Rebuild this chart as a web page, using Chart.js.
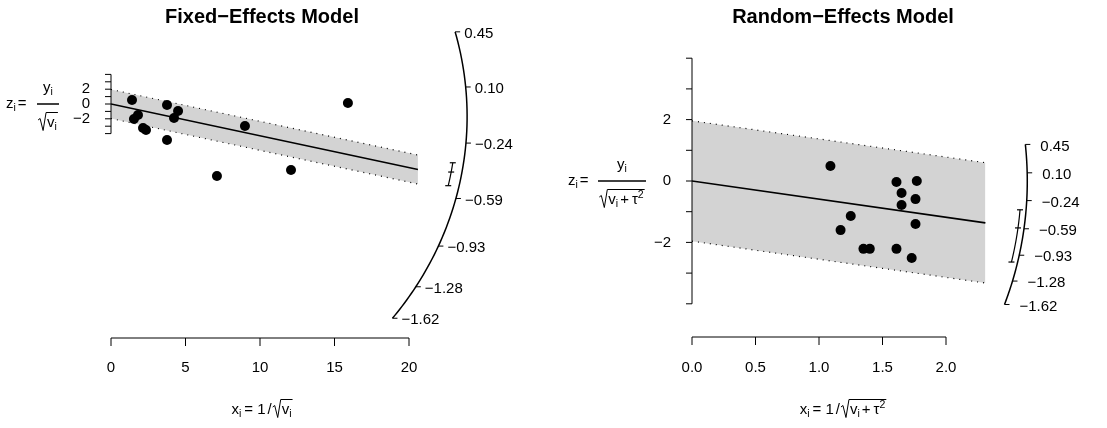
<!DOCTYPE html>
<html>
<head>
<meta charset="utf-8">
<script src="https://cdn.jsdelivr.net/npm/chart.js@4.4.1/dist/chart.umd.min.js"></script>
<style>
  body { margin: 0; background: #fff; width: 1107px; height: 428px; overflow: hidden; }
  canvas { position: absolute; top: 0; }
</style>
</head>
<body>
<canvas id="fe" width="553" height="428" style="left:0"></canvas>
<canvas id="re" width="554" height="428" style="left:553px"></canvas>
<script>
// datos: x = 1/sqrt(v), z = y/sqrt(v)
const feX = [1.41, 3.76, 4.50, 1.81, 1.54, 4.23, 2.15, 2.35, 8.99, 3.76, 15.9, 7.11, 12.08];
const feZ = [0.54, -0.14, -0.95, -1.49, -2.03, -1.89, -3.24, -3.51, -2.97, -4.86, 0.14, -9.73, -8.92];
const reX = [1.09, 1.61, 1.77, 1.65, 1.76, 1.65, 1.25, 1.76, 1.17, 1.35, 1.40, 1.61, 1.73];
const reZ = [0.49, -0.03, 0.00, -0.39, -0.59, -0.78, -1.14, -1.40, -1.60, -2.21, -2.21, -2.21, -2.51];

// estimaciones y sus intervalos
const feEst = -0.43, feCi = [-0.37, -0.52];
const reEst = -0.59, reCi = [-0.36, -1.04];

// ticks
const arcVals = [0.45, 0.10, -0.24, -0.59, -0.93, -1.28, -1.62];
const arcLabels = ['0.45', '0.10', '\u22120.24', '\u22120.59', '\u22120.93', '\u22121.28', '\u22121.62'];
const feXTicks = [0, 5, 10, 15, 20];
const feXLabels = ['0', '5', '10', '15', '20'];
const reXTicks = [0, 0.5, 1.0, 1.5, 2.0];
const reXLabels = ['0.0', '0.5', '1.0', '1.5', '2.0'];
const zTicks = [-4, -3, -2, -1, 0, 1, 2, 3, 4];
const zLabelVals = [2, 0, -2];
const zLabels = ['2', '0', '\u22122'];

const FONT = '"Liberation Sans", Arial, sans-serif';
const FS = 15;

// dibuja texto "matematico" simple: partes normales, subindices, superindices y raiz
function mathText(ctx, x, y, parts, size, dry) {
    let cx = x;
    parts.forEach(p => {
        if (p.sqrt) {
            const w = mathText(ctx, 0, 0, p.sqrt, size, true);
            if (!dry) {
                ctx.beginPath();
                ctx.lineWidth = 1;
                ctx.moveTo(cx, y - size * 0.2);
                ctx.lineTo(cx + 2, y - size * 0.3);
                ctx.lineTo(cx + 5, y + size * 0.5);
                ctx.lineTo(cx + 8, y - size * 0.7);
                ctx.lineTo(cx + 10 + w, y - size * 0.7);
                ctx.stroke();
                mathText(ctx, cx + 9, y, p.sqrt, size, false);
            }
            cx += w + 10;
            return;
        }
        const s = p.sub || p.sup ? size * 0.7 : size;
        ctx.font = s + 'px ' + FONT;
        const w = ctx.measureText(p.t).width;
        if (!dry) {
            ctx.textAlign = 'left';
            ctx.textBaseline = 'middle';
            ctx.fillText(p.t, cx, y + (p.sub ? size * 0.3 : p.sup ? -size * 0.35 : 0));
        }
        cx += w + (p.gap || 0);
    });
    return cx - x;
}

function mathCentered(ctx, cx, y, parts, size) {
    const w = mathText(ctx, 0, 0, parts, size, true);
    mathText(ctx, cx - w / 2, y, parts, size, false);
    return w;
}

// plugin que dibuja ejes, arco, titulos y etiquetas
const radialPlugin = {
    id: 'radial',
    afterDraw(chart) {
        const c = chart.options.radial;
        const ctx = chart.ctx;
        const xs = chart.scales.x, ys = chart.scales.y;
        ctx.save();
        ctx.fillStyle = '#000';
        ctx.strokeStyle = '#000';

        // titulo
        ctx.font = 'bold 20px ' + FONT;
        ctx.textAlign = 'center';
        ctx.textBaseline = 'middle';
        ctx.fillText(c.title, c.titleX, 17);

        // eje x
        const ay = c.xAxisY;
        ctx.lineWidth = 1;
        ctx.beginPath();
        ctx.moveTo(xs.getPixelForValue(c.xTicks[0]), ay);
        ctx.lineTo(xs.getPixelForValue(c.xTicks[c.xTicks.length - 1]), ay);
        c.xTicks.forEach(t => {
            const px = xs.getPixelForValue(t);
            ctx.moveTo(px, ay);
            ctx.lineTo(px, ay + 8);
        });
        ctx.stroke();
        ctx.font = FS + 'px ' + FONT;
        c.xTicks.forEach((t, i) => ctx.fillText(c.xLabels[i], xs.getPixelForValue(t), 368));

        // eje z
        const axX = xs.getPixelForValue(0);
        ctx.beginPath();
        ctx.moveTo(axX, ys.getPixelForValue(zTicks[0]));
        ctx.lineTo(axX, ys.getPixelForValue(zTicks[zTicks.length - 1]));
        zTicks.forEach(t => {
            const py = ys.getPixelForValue(t);
            ctx.moveTo(axX, py);
            ctx.lineTo(axX - 6, py);
        });
        ctx.stroke();
        ctx.textAlign = 'right';
        zLabelVals.forEach((t, i) => ctx.fillText(zLabels[i], axX - 21, ys.getPixelForValue(t)));

        // arco con los valores del efecto
        const arcPt = (v, f) => {
            const phi = Math.atan(c.arcC * (v - c.arcV0));
            return [xs.getPixelForValue(c.arcRx * f * Math.cos(phi)),
                    ys.getPixelForValue(c.arcZ0 + c.arcRz * f * Math.sin(phi))];
        };
        const drawArc = (v1, v2, f) => {
            ctx.beginPath();
            for (let k = 0; k <= 60; k++) {
                const p = arcPt(v1 + (v2 - v1) * k / 60, f);
                if (k === 0) ctx.moveTo(p[0], p[1]); else ctx.lineTo(p[0], p[1]);
            }
            ctx.stroke();
        };
        ctx.lineWidth = 1.5;
        drawArc(arcVals[0], arcVals[arcVals.length - 1], 1);
        ctx.lineWidth = 1;
        ctx.textAlign = 'left';
        arcVals.forEach((v, i) => {
            const p = arcPt(v, 1);
            ctx.beginPath();
            ctx.moveTo(p[0], p[1]);
            ctx.lineTo(p[0] + 5, p[1]);
            ctx.stroke();
            ctx.fillText(arcLabels[i], p[0] + c.labOff, p[1] + 2);
        });

        // intervalo de confianza sobre el arco
        ctx.lineWidth = 1.2;
        drawArc(c.ci[0], c.ci[1], c.ciF);
        [c.ci[0], c.est, c.ci[1]].forEach(v => {
            const p = arcPt(v, c.ciF);
            ctx.beginPath();
            ctx.moveTo(p[0] - 3, p[1]);
            ctx.lineTo(p[0] + 3, p[1]);
            ctx.stroke();
        });

        // etiqueta eje y: z = y / sqrt(...)
        const yl = c.yLab;
        mathText(ctx, yl.x, yl.y, [{t: 'z'}, {t: 'i', sub: true, gap: 2}, {t: '='}], FS, false);
        ctx.lineWidth = 1.5;
        ctx.beginPath();
        ctx.moveTo(yl.barL, yl.y);
        ctx.lineTo(yl.barR, yl.y);
        ctx.stroke();
        const mid = (yl.barL + yl.barR) / 2;
        mathCentered(ctx, mid, yl.y - 16, [{t: 'y'}, {t: 'i', sub: true}], FS);
        ctx.lineWidth = 1;
        mathCentered(ctx, mid, yl.y + 19, [{sqrt: yl.den}], FS);

        // etiqueta eje x: x = 1 / sqrt(...)
        const xl = c.xLab;
        mathCentered(ctx, xl.x, 410, [{t: 'x'}, {t: 'i', sub: true, gap: 3}, {t: '= 1', gap: 2}, {t: '/', gap: 1}, {sqrt: xl.den}], FS);
        ctx.restore();
    }
};

function crearPanel(id, xs, zs, est, ci, xEnd, cfg) {
    const puntos = xs.map((x, i) => ({x: x, y: zs[i]}));
    return new Chart(document.getElementById(id), {
        type: 'scatter',
        data: {
            datasets: [
                {type: 'line', data: [{x: 0, y: 1.96}, {x: xEnd, y: est * xEnd + 1.96}],
                 borderColor: '#000', borderWidth: 1.2, borderDash: [1, 5], pointRadius: 0,
                 fill: '+1', backgroundColor: '#d3d3d3', order: 3},
                {type: 'line', data: [{x: 0, y: -1.96}, {x: xEnd, y: est * xEnd - 1.96}],
                 borderColor: '#000', borderWidth: 1.2, borderDash: [1, 5], pointRadius: 0,
                 fill: false, order: 2},
                {type: 'line', data: [{x: 0, y: 0}, {x: xEnd, y: est * xEnd}],
                 borderColor: '#000', borderWidth: 1.6, pointRadius: 0, fill: false, order: 1},
                {data: puntos, pointRadius: 5, pointBackgroundColor: '#000', pointBorderWidth: 0, order: 0}
            ]
        },
        options: Object.assign({
            responsive: false,
            animation: false,
            layout: {padding: cfg.pad},
            scales: {
                x: {type: 'linear', display: false, min: cfg.xMin, max: cfg.xMax},
                y: {type: 'linear', display: false, min: cfg.yMin, max: cfg.yMax}
            },
            plugins: {legend: {display: false}, tooltip: {enabled: false}}
        }, {radial: cfg.radial}),
        plugins: [radialPlugin]
    });
}

window.onload = function() {
    crearPanel('fe', feX, feZ, feEst, feCi, 20.6, {
        pad: {left: 111, right: 84.4, top: 30, bottom: 102},
        xMin: 0, xMax: 24, yMin: -30, yMax: 10,
        radial: {
            title: 'Fixed\u2212Effects Model', titleX: 262, xAxisY: 338,
            xTicks: feXTicks, xLabels: feXLabels,
            arcRx: 23.9, arcRz: 44.5, arcZ0: -1.69, arcC: 0.503, arcV0: -0.079, labOff: 9,
            ci: feCi, est: feEst, ciF: 0.97,
            yLab: {x: 6, y: 104, barL: 37, barR: 59, den: [{t: 'v'}, {t: 'i', sub: true}]},
            xLab: {x: 262, den: [{t: 'v'}, {t: 'i', sub: true}]}
        }
    });
    crearPanel('re', reX, reZ, reEst, reCi, 2.31, {
        pad: {left: 139, right: 59.4, top: 27.5, bottom: 93.5},
        xMin: 0, xMax: 2.8, yMin: -5, yMax: 5,
        radial: {
            title: 'Random\u2212Effects Model', titleX: 290, xAxisY: 337,
            xTicks: reXTicks, xLabels: reXLabels,
            arcRx: 2.64, arcRz: 11.1, arcZ0: 0, arcC: 0.24, arcV0: 0, labOff: 15,
            ci: reCi, est: reEst, ciF: 0.982,
            yLab: {x: 15, y: 181, barL: 45, barR: 93,
                   den: [{t: 'v'}, {t: 'i', sub: true, gap: 2}, {t: '+\u2009\u03c4'}, {t: '2', sup: true}]},
            xLab: {x: 290, den: [{t: 'v'}, {t: 'i', sub: true, gap: 2}, {t: '+\u2009\u03c4'}, {t: '2', sup: true}]}
        }
    });
};
</script>
</body>
</html>
